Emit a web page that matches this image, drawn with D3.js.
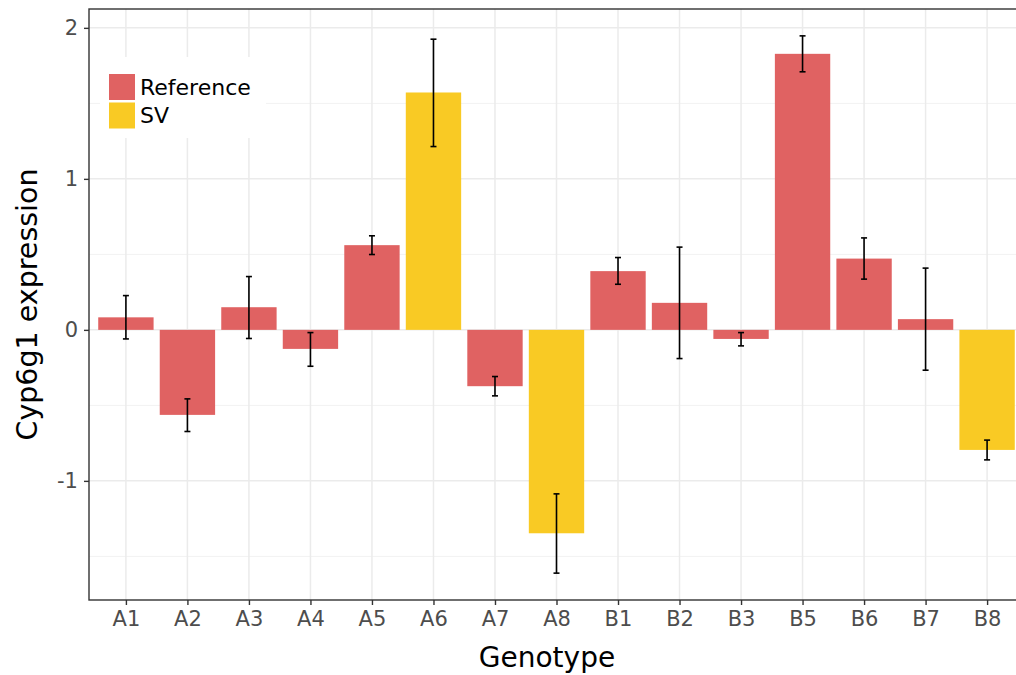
<!DOCTYPE html>
<html>
<head>
<meta charset="utf-8">
<script src="https://cdn.jsdelivr.net/npm/d3@7"></script>
<style>
  body { margin: 0; background: #fff; }
  svg { display: block; font-family: "DejaVu Sans", sans-serif; }
</style>
</head>
<body>
<div id="chart"></div>
<script>
// data
var genotypes = ['A1', 'A2', 'A3', 'A4', 'A5', 'A6', 'A7', 'A8',
                 'B1', 'B2', 'B3', 'B5', 'B6', 'B7', 'B8'];
var alleles = ['Reference', 'Reference', 'Reference', 'Reference', 'Reference', 'SV', 'Reference', 'SV',
               'Reference', 'Reference', 'Reference', 'Reference', 'Reference', 'Reference', 'SV'];
var expression = [0.083, -0.563, 0.150, -0.126, 0.561, 1.572, -0.373, -1.347,
                  0.389, 0.179, -0.060, 1.828, 0.472, 0.071, -0.795];
var errLow = [-0.060, -0.673, -0.057, -0.241, 0.499, 1.214, -0.437, -1.611,
              0.302, -0.190, -0.106, 1.709, 0.336, -0.267, -0.861];
var errHigh = [0.227, -0.457, 0.353, -0.018, 0.623, 1.925, -0.309, -1.086,
               0.479, 0.548, -0.018, 1.947, 0.609, 0.409, -0.730];
var yTicks = [-1, 0, 1, 2];
var yMinor = [-1.5, -0.5, 0.5, 1.5];
var legendKeys = ['Reference', 'SV'];
var legendColors = ['#e06262', '#f9ca24'];

var data = genotypes.map(function(g, i) {
    return {genotype: g, allele: alleles[i], value: expression[i], lo: errLow[i], hi: errHigh[i]};
});

var svgWidth = 1016, svgHeight = 675;
// panel runs past the right edge of the picture (it is cropped)
var panel = {left: 89, right: 1024, top: 9, bottom: 600};

var svg = d3.select('#chart').append('svg')
    .attr('width', svgWidth).attr('height', svgHeight);

// scales
var x = d3.scalePoint()
    .domain(genotypes)
    .range([panel.left, panel.right])
    .padding(0.6);
var barWidth = x.step() * 0.9;

var yMin = d3.min(errLow), yMax = d3.max(errHigh);
var pad = (yMax - yMin) * 0.05;
var y = d3.scaleLinear()
    .domain([yMin - pad, yMax + pad])
    .range([panel.bottom, panel.top]);

var color = d3.scaleOrdinal().domain(legendKeys).range(legendColors);

// grid
var grid = svg.append('g');
grid.selectAll('.minor').data(yMinor).enter().append('line')
    .attr('x1', panel.left).attr('x2', panel.right)
    .attr('y1', function(d) { return y(d); }).attr('y2', function(d) { return y(d); })
    .attr('stroke', '#f2f2f2').attr('stroke-width', 1);
grid.selectAll('.major').data(yTicks).enter().append('line')
    .attr('x1', panel.left).attr('x2', panel.right)
    .attr('y1', function(d) { return y(d); }).attr('y2', function(d) { return y(d); })
    .attr('stroke', '#ebebeb').attr('stroke-width', 1.5);
grid.selectAll('.vert').data(genotypes).enter().append('line')
    .attr('x1', function(d) { return x(d); }).attr('x2', function(d) { return x(d); })
    .attr('y1', panel.top).attr('y2', panel.bottom)
    .attr('stroke', '#ebebeb').attr('stroke-width', 1.5);

// bars
svg.append('g').selectAll('rect').data(data).enter().append('rect')
    .attr('x', function(d) { return x(d.genotype) - barWidth / 2; })
    .attr('width', barWidth)
    .attr('y', function(d) { return y(Math.max(0, d.value)); })
    .attr('height', function(d) { return Math.abs(y(d.value) - y(0)); })
    .attr('fill', function(d) { return color(d.allele); });

// error bars
var eb = svg.append('g').attr('stroke', '#000').attr('stroke-width', 1.6);
eb.selectAll('.v').data(data).enter().append('line')
    .attr('x1', function(d) { return x(d.genotype); }).attr('x2', function(d) { return x(d.genotype); })
    .attr('y1', function(d) { return y(d.hi); }).attr('y2', function(d) { return y(d.lo); });
eb.selectAll('.top').data(data).enter().append('line')
    .attr('x1', function(d) { return x(d.genotype) - 3; }).attr('x2', function(d) { return x(d.genotype) + 3; })
    .attr('y1', function(d) { return y(d.hi); }).attr('y2', function(d) { return y(d.hi); });
eb.selectAll('.bot').data(data).enter().append('line')
    .attr('x1', function(d) { return x(d.genotype) - 3; }).attr('x2', function(d) { return x(d.genotype) + 3; })
    .attr('y1', function(d) { return y(d.lo); }).attr('y2', function(d) { return y(d.lo); });

// panel border
svg.append('rect')
    .attr('x', panel.left).attr('y', panel.top)
    .attr('width', panel.right - panel.left).attr('height', panel.bottom - panel.top)
    .attr('fill', 'none').attr('stroke', '#333').attr('stroke-width', 1.4);

// axes - plain hyphen for negatives, like the original
var xAxis = svg.append('g')
    .attr('transform', 'translate(0,' + panel.bottom + ')')
    .call(d3.axisBottom(x).tickSize(5).tickPadding(6));
var yAxis = svg.append('g')
    .attr('transform', 'translate(' + panel.left + ',0)')
    .call(d3.axisLeft(y).tickValues(yTicks).tickSize(5).tickPadding(6)
        .tickFormat(function(d) { return String(d); }));
[xAxis, yAxis].forEach(function(a) {
    a.select('.domain').remove();
    a.selectAll('.tick line').attr('stroke', '#333').attr('stroke-width', 1.4);
    a.selectAll('.tick text').attr('fill', '#4d4d4d')
        .style('font-family', '"DejaVu Sans", sans-serif').style('font-size', '21px');
});

// axis titles
svg.append('text')
    .attr('x', 547).attr('y', 667)
    .attr('text-anchor', 'middle')
    .style('font-size', '28px').attr('fill', '#000')
    .text('Genotype');
svg.append('text')
    .attr('transform', 'translate(37,' + ((panel.top + panel.bottom) / 2) + ') rotate(-90)')
    .attr('text-anchor', 'middle')
    .style('font-size', '28.5px').attr('fill', '#000')
    .text('Cyp6g1 expression');

// legend
var legend = svg.append('g');
legend.append('rect')
    .attr('x', 100).attr('y', 57).attr('width', 166).attr('height', 81)
    .attr('fill', '#fff');
legendKeys.forEach(function(k, i) {
    legend.append('rect')
        .attr('x', 109).attr('y', 74 + i * 28.5)
        .attr('width', 26).attr('height', 26)
        .attr('fill', color(k));
    legend.append('text')
        .attr('x', 140).attr('y', 87 + i * 28.5)
        .attr('dy', '0.35em')
        .style('font-size', '22px').attr('fill', '#000')
        .text(k);
});
</script>
</body>
</html>
